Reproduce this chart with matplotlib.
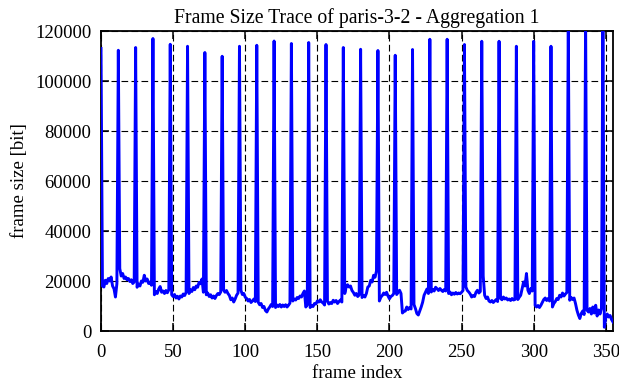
import matplotlib
matplotlib.use('Agg')
import matplotlib.pyplot as plt
import numpy as np

# frame sizes in kbit, one row per GOP of 12 frames (I-frame first)
frame_size_kbit = [
    113.0, 18.0, 17.6, 20.3, 19.0, 21.0, 20.0, 21.6, 18.0, 16.9, 13.6, 18.9,
    112.3, 25.0, 22.0, 23.0, 21.0, 21.6, 20.5, 21.0, 19.8, 20.5, 19.0, 19.6,
    113.4, 17.5, 18.8, 18.0, 20.0, 19.5, 22.3, 20.0, 20.8, 19.0, 19.6, 18.3,
    117.0, 14.5, 15.8, 15.0, 16.8, 17.8, 15.5, 16.0, 15.0, 16.2, 15.3, 16.5,
    114.7, 14.5, 13.8, 14.6, 13.2, 13.9, 12.8, 14.0, 13.6, 14.8, 14.2, 15.5,
    113.9, 15.0, 16.5, 15.8, 17.4, 16.5, 18.0, 17.5, 19.5, 18.9, 20.8, 15.5,
    111.4, 14.5, 15.2, 13.8, 14.5, 13.2, 14.0, 13.0, 14.2, 15.0, 14.6, 15.6,
    109.9, 16.3, 15.5, 16.2, 15.0, 14.2, 12.5, 13.2, 11.6, 12.8, 14.3, 15.2,
    113.9, 16.3, 14.6, 15.0, 13.5, 13.0, 12.0, 12.6, 11.4, 12.0, 12.8, 11.8,
    114.3, 11.5, 10.5, 11.0, 9.4, 9.8, 8.2, 7.6, 8.8, 9.6, 10.6, 9.8,
    116.0, 9.4, 10.4, 9.8, 10.6, 9.6, 10.4, 9.8, 10.5, 9.6, 10.3, 11.2,
    115.0, 12.0, 12.8, 12.4, 13.4, 13.0, 14.0, 13.6, 15.0, 16.0, 9.6, 10.4,
    115.4, 9.4, 10.2, 9.8, 11.0, 10.8, 12.0, 11.6, 12.5, 11.6, 11.2, 10.4,
    114.6, 11.8, 10.8, 11.4, 11.0, 12.3, 11.6, 12.2, 11.0, 11.8, 12.4, 11.6,
    113.4, 15.0, 17.6, 18.5, 17.6, 18.0, 16.2, 15.4, 14.3, 15.0, 13.8, 14.4,
    112.7, 13.4, 14.2, 13.6, 15.0, 17.6, 18.0, 20.3, 19.6, 22.3, 21.5, 24.0,
    112.2, 12.0, 13.5, 14.2, 15.2, 14.6, 15.5, 14.0, 12.9, 13.8, 14.2, 15.0,
    110.3, 14.6, 15.5, 16.3, 15.0, 7.2, 7.8, 8.0, 9.6, 8.6, 9.4, 8.8,
    112.6, 10.6, 9.0, 7.0, 6.4, 8.0, 9.6, 11.5, 14.3, 15.5, 16.8, 15.0,
    116.7, 15.6, 16.6, 16.0, 17.5, 16.9, 16.2, 17.0, 16.3, 15.8, 16.6, 16.0,
    116.7, 15.0, 15.6, 14.5, 15.2, 14.7, 15.4, 14.8, 15.2, 14.9, 15.5, 16.2,
    114.6, 17.6, 16.2, 15.6, 14.8, 13.6, 14.2, 13.8, 15.5, 16.3, 15.2, 15.8,
    115.9, 22.0, 14.3, 13.0, 13.6, 12.0, 11.6, 12.2, 11.4, 12.0, 12.6, 11.8,
    115.9, 13.0, 12.5, 13.6, 12.8, 13.2, 12.4, 12.8, 12.2, 13.0, 12.4, 12.6,
    113.9, 12.6, 13.5, 14.3, 17.0, 19.6, 18.0, 23.0, 16.3, 15.0, 17.0, 16.0,
    115.9, 10.3, 9.6, 10.2, 9.4, 10.3, 11.5, 12.6, 13.2, 12.2, 13.0, 12.0,
    113.9, 9.6, 11.0, 11.8, 13.0, 12.6, 14.3, 13.6, 15.2, 14.0, 14.8, 15.4,
    125.0, 12.3, 13.4, 12.6, 13.2, 11.0, 8.3, 6.4, 5.0, 7.0, 8.0, 6.6,
    125.0, 8.3, 7.6, 9.0, 6.8, 9.6, 7.2, 10.3, 6.0, 8.4, 6.8, 9.0,
    125.0, 1.5, 5.4, 6.8, 5.6, 6.2, 4.6, 3.6,
]
frame_size = np.array(frame_size_kbit) * 1000
frame_index = np.arange(len(frame_size))

x_ticks = [0, 50, 100, 150, 200, 250, 300, 350]
y_ticks = [0, 20000, 40000, 60000, 80000, 100000, 120000]

plt.rcParams['font.family'] = ['Liberation Serif', 'DejaVu Serif']
plt.rcParams['font.size'] = 13.5

fig = plt.figure(figsize=(6.19, 3.82), dpi=100)
ax = fig.add_axes([0.1632, 0.1335, 0.8271, 0.7853])

ax.plot(frame_index, frame_size, color='#0000ff', lw=2.1, zorder=3)

ax.set_xlim(0, 355)
ax.set_ylim(0, 120000)
ax.set_xticks(x_ticks)
ax.set_yticks(y_ticks)
ax.grid(True, color='black', lw=0.8, linestyle=(0, (6, 3)))
ax.set_axisbelow(True)
ax.tick_params(direction='in', length=6, width=1.1, top=True, right=True,
               labelsize=13.5, colors='black')
ax.tick_params(axis='y', pad=7)
ax.tick_params(axis='x', pad=9)
for s in ax.spines.values():
    s.set_linewidth(1.3)

ax.set_title('Frame Size Trace of paris-3-2 - Aggregation 1', fontsize=14.2, pad=6)
ax.set_xlabel('frame index', labelpad=3)
ax.set_ylabel('frame size [bit]', labelpad=5)

fig.savefig('out.png', dpi=100)
